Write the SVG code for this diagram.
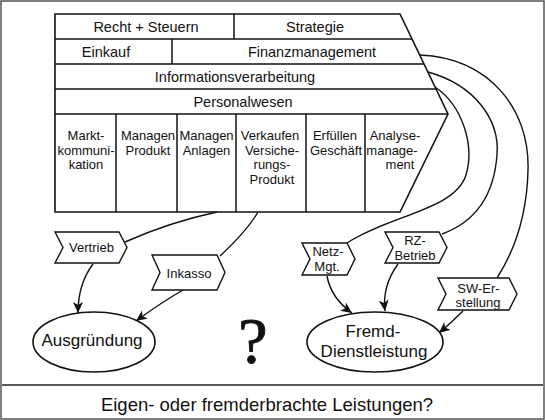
<svg xmlns="http://www.w3.org/2000/svg" width="545" height="420" viewBox="0 0 545 420">
  <defs>
    <marker id="arr" markerUnits="userSpaceOnUse" markerWidth="12" markerHeight="10" refX="11" refY="5" orient="auto">
      <path d="M0,0 L11,5 L0,10 L3,5 z" fill="#111"/>
    </marker>
    <style>
      .box { fill: #fff; stroke: #111; stroke-width: 1.6; stroke-linejoin: miter; }
      .ln { fill: none; stroke: #111; stroke-width: 1.5; }
      .cv { fill: none; stroke: #111; stroke-width: 1.4; }
      .ar { fill: none; stroke: #111; stroke-width: 1.4; marker-end: url(#arr); }
      .chev { fill: #fff; stroke: #111; stroke-width: 1.4; stroke-linejoin: miter; }
      .ell { fill: #fff; stroke: #111; stroke-width: 1.6; }
      text { font-family: "Liberation Sans", Arial, sans-serif; fill: #111; text-anchor: middle; }
      .t1 { font-size: 14.5px; }
      .t2 { font-size: 13px; }
      .t3 { font-size: 17px; }
      .t4 { font-size: 18.5px; }
      .q { font-family: "Liberation Serif", "Times New Roman", serif; font-size: 66px; stroke: #111; stroke-width: 0.9; }
    </style>
  </defs>
  <rect x="0" y="0" width="545" height="420" fill="#fff"/>
  <rect x="1" y="1" width="543" height="418" fill="none" stroke="#555" stroke-width="1.5"/>
  <line x1="2" y1="385" x2="543" y2="385" stroke="#222" stroke-width="1.6"/>

  <g id="value-chain">
    <polygon class="box" points="55,14 400,14 448,114 400,212 55,212"/>
    <line class="ln" x1="55" y1="39" x2="412" y2="39"/>
    <line class="ln" x1="55" y1="64" x2="424" y2="64"/>
    <line class="ln" x1="55" y1="89" x2="436" y2="89"/>
    <line class="ln" x1="55" y1="114" x2="448" y2="114"/>
    <line class="ln" x1="234" y1="14" x2="234" y2="39"/>
    <line class="ln" x1="172" y1="39" x2="172" y2="64"/>
    <line class="ln" x1="116" y1="114" x2="116" y2="212"/>
    <line class="ln" x1="177" y1="114" x2="177" y2="212"/>
    <line class="ln" x1="236" y1="114" x2="236" y2="212"/>
    <line class="ln" x1="306" y1="114" x2="306" y2="212"/>
    <line class="ln" x1="365" y1="114" x2="365" y2="212"/>
    <text class="t1" x="146" y="32">Recht + Steuern</text>
    <text class="t1" x="315" y="32">Strategie</text>
    <text class="t1" x="106" y="57">Einkauf</text>
    <text class="t1" x="312" y="57">Finanzmanagement</text>
    <text class="t1" x="235" y="82">Informationsverarbeitung</text>
    <text class="t1" x="243" y="107">Personalwesen</text>
    <text class="t2" x="86" y="140">Markt-</text>
    <text class="t2" x="86" y="154.7">kommuni-</text>
    <text class="t2" x="86" y="169.4">kation</text>
    <text class="t2" x="148" y="140">Managen</text>
    <text class="t2" x="148" y="154.7">Produkt</text>
    <text class="t2" x="206.5" y="140">Managen</text>
    <text class="t2" x="206.5" y="154.7">Anlagen</text>
    <text class="t2" x="270" y="140">Verkaufen</text>
    <text class="t2" x="272" y="154.7">Versiche-</text>
    <text class="t2" x="272" y="169.4">rungs-</text>
    <text class="t2" x="272" y="184.1">Produkt</text>
    <text class="t2" x="335" y="140">Erfüllen</text>
    <text class="t2" x="336" y="154.7">Geschäft</text>
    <text class="t2" x="395" y="140">Analyse-</text>
    <text class="t2" x="392" y="154.7">manage-</text>
    <text class="t2" x="400" y="169.4">ment</text>
  </g>

  <g id="connectors">
    <path class="cv" d="M217,212 Q170,222 125,242"/>
    <path class="cv" d="M258,212 Q247,231 220,256"/>
    <path class="cv" d="M420,55 C490,58 530,110 528,170 C527,215 515,250 497,278"/>
    <path class="cv" d="M428,72 C475,85 500,120 497,155 C494,195 475,222 442,234"/>
    <path class="cv" d="M435,87 C462,105 475,145 466,175 C455,210 390,215 347,243"/>
    <path class="ar" d="M93,264 Q78,284 78,313"/>
    <path class="ar" d="M183,290 Q162,302 136,321"/>
    <path class="ar" d="M327,276 Q331,298 352,313"/>
    <path class="ar" d="M398,264 Q382,286 385,311"/>
    <path class="ar" d="M463,311 Q452,322 439,333"/>
  </g>

  <g id="vertrieb">
    <polygon class="chev" points="55,232 119,232 127,247.5 119,263 55,263 63,247.5"/>
    <text class="t2" x="91.5" y="252">Vertrieb</text>
  </g>
  <g id="inkasso">
    <polygon class="chev" points="152,255 217,255 225,272.5 217,290 152,290 160,272.5"/>
    <text class="t2" x="189" y="277.5">Inkasso</text>
  </g>
  <g id="netz-mgt">
    <polygon class="chev" points="302,243 347,243 355,259 347,275 302,275 310,259"/>
    <text class="t2" x="328" y="256">Netz-</text>
    <text class="t2" x="327" y="270.5">Mgt.</text>
  </g>
  <g id="rz-betrieb">
    <polygon class="chev" points="385,232 439,232 447,247.5 439,263 385,263 393,247.5"/>
    <text class="t2" x="415" y="245">RZ-</text>
    <text class="t2" x="415" y="260">Betrieb</text>
  </g>
  <g id="sw-erstellung">
    <polygon class="chev" points="438,278 509,278 517,294 509,310 438,310 446,294"/>
    <text class="t2" x="478.5" y="293">SW-Er-</text>
    <text class="t2" x="478" y="307">stellung</text>
  </g>
  <g id="ausgruendung">
    <ellipse class="ell" cx="94" cy="342" rx="61" ry="30"/>
    <text class="t3" x="92" y="346">Ausgründung</text>
  </g>
  <g id="fremd-dienstleistung">
    <ellipse class="ell" cx="375" cy="342" rx="68" ry="30"/>
    <text class="t3" x="373" y="337">Fremd-</text>
    <text class="t3" x="374" y="357">Dienstleistung</text>
  </g>
  <g id="question">
    <text class="q" x="253" y="363">?</text>
  </g>
  <g id="caption">
    <text class="t4" x="267" y="411">Eigen- oder fremderbrachte Leistungen?</text>
  </g>
</svg>
